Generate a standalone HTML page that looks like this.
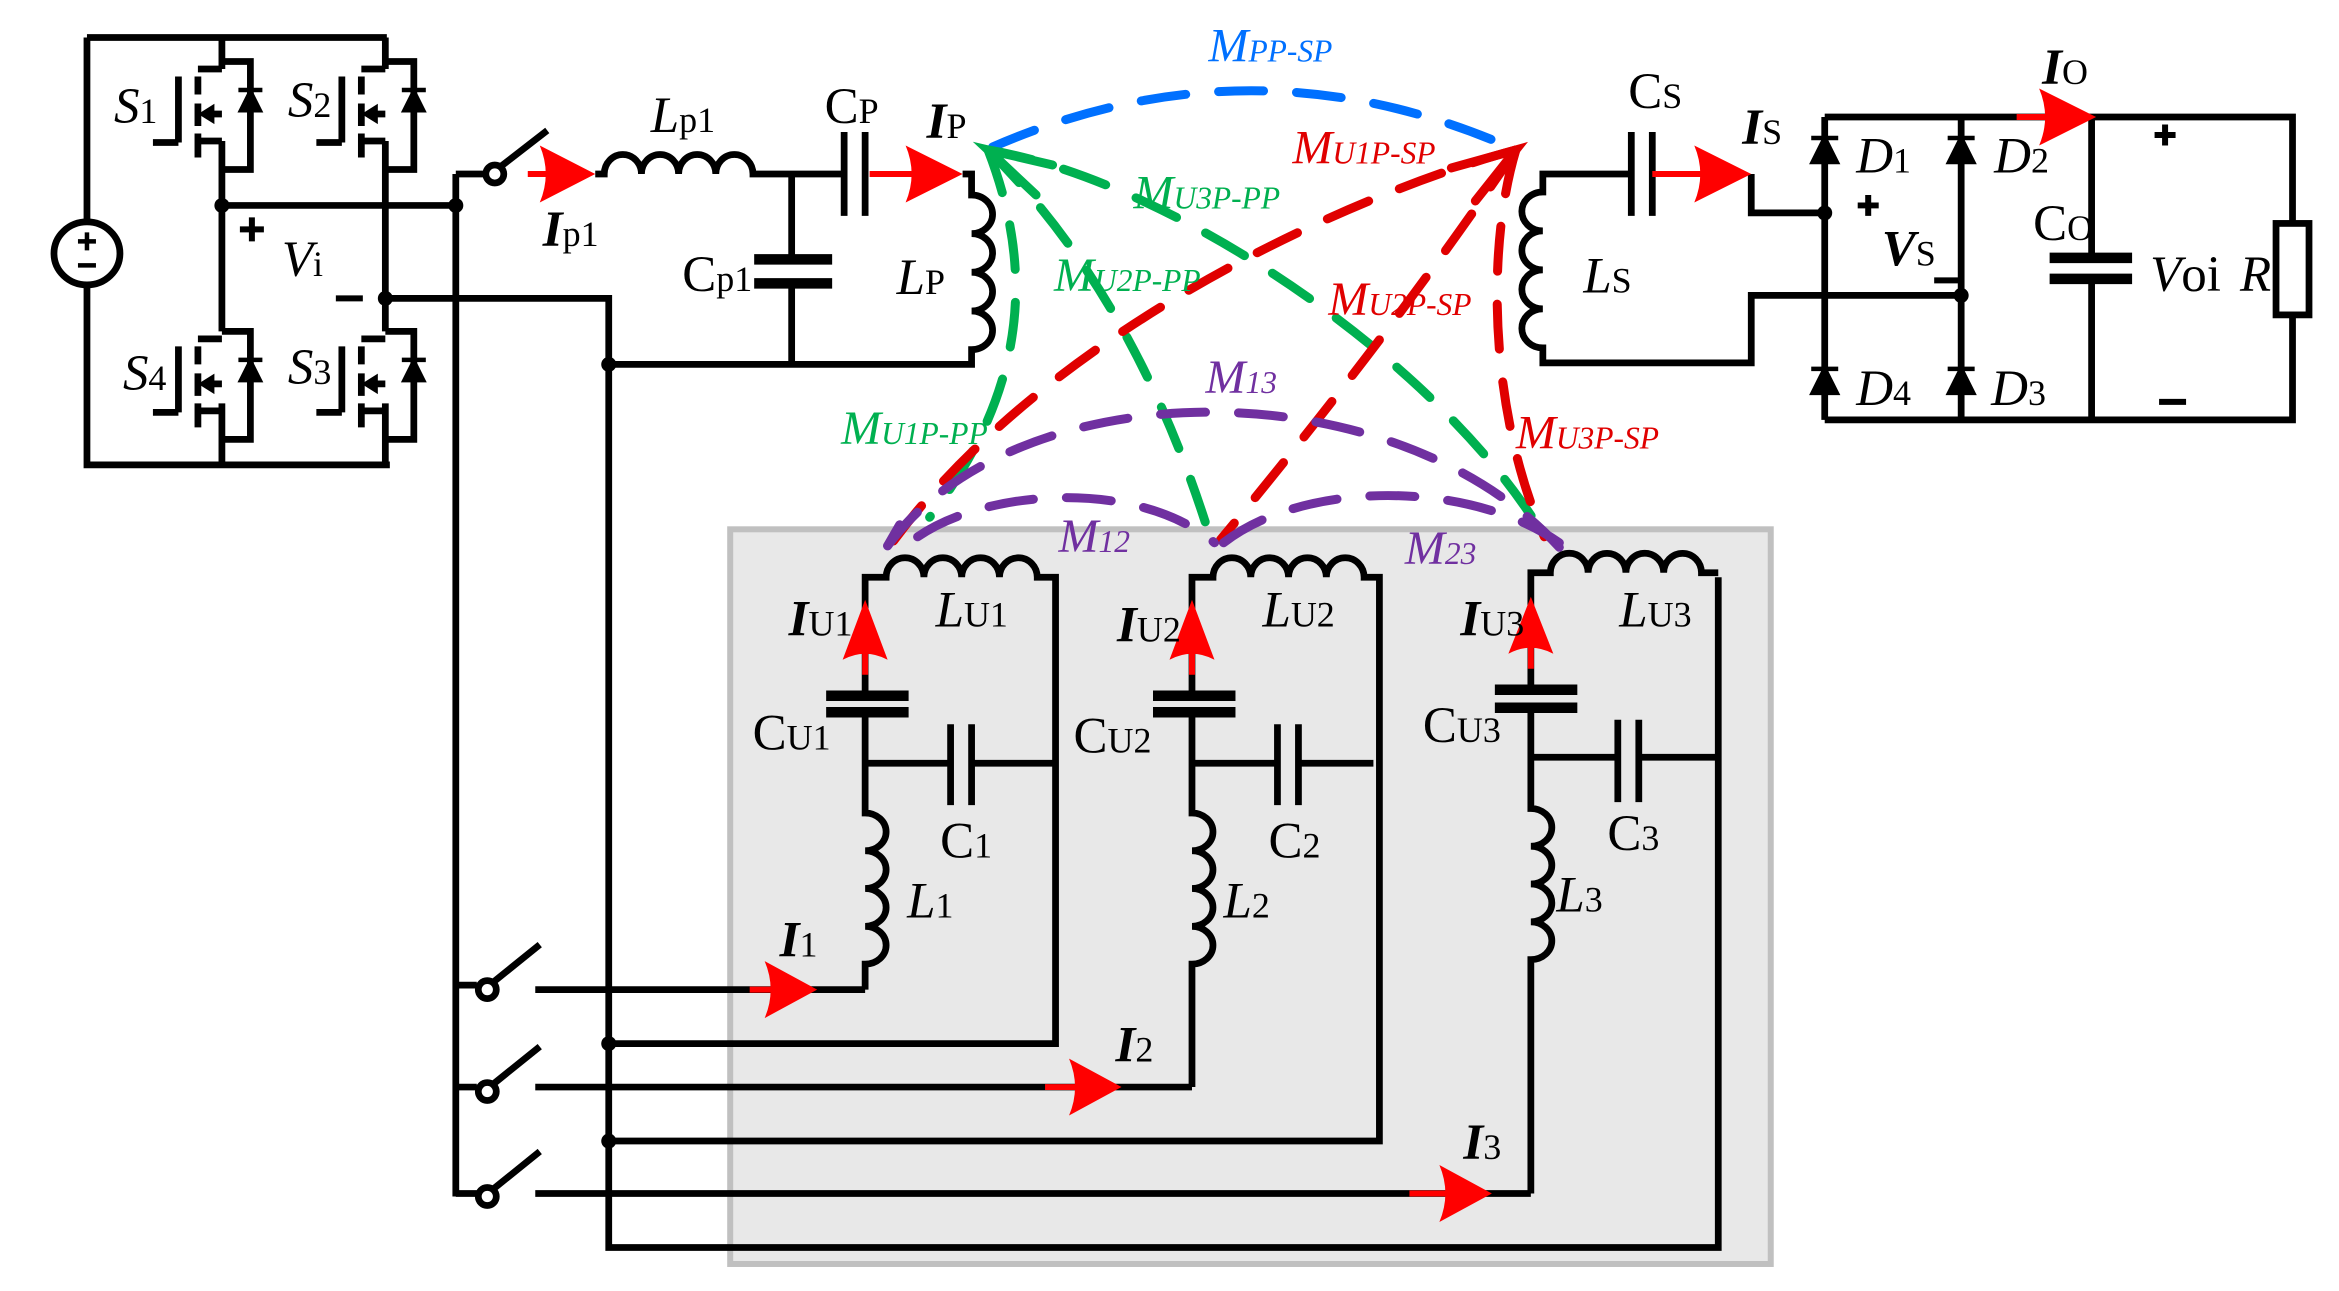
<!DOCTYPE html>
<html><head><meta charset="utf-8"><style>
html,body{margin:0;padding:0;background:#fff;}
svg{display:block;}
text{font-family:"Liberation Serif",serif;}
</style></head><body>
<svg width="2339" height="1291" viewBox="0 0 1560 861" xmlns="http://www.w3.org/2000/svg">
<defs>
<g id="mos" fill="none" stroke="#000" stroke-width="4.5">
  <path d="M148 41 H167 V113 H148"/>
  <path d="M132 46 H148"/>
  <path d="M132 94 H148"/>
  <path d="M119 51 V95 M102 95 H119"/>
  <path d="M132 51 V63 M132 69 V84 M132 89 V105"/>
  <path d="M136 76 H148"/>
  <path d="M134 76 l8 -5 v10 z" fill="#000" stroke-width="2"/>
  <path d="M167 60 l-7 14 h14 z" fill="#000" stroke-width="2"/>
  <path d="M159 60 H175" stroke-width="3"/>
</g>
</defs>
<rect width="1560" height="861" fill="#fff"/>

<rect x="487" y="353" width="694" height="490" fill="#e8e8e8" stroke="#c0c0c0" stroke-width="4"/>

<g fill="none" stroke="#000" stroke-width="4.5" stroke-linejoin="miter">
  <path d="M58 25 H258 M58 25 V148 M58 190 V310 H260"/>
  <ellipse cx="58" cy="169" rx="22" ry="21"/>
  <path d="M148 25 V46 M148 94 V221 M148 269 V310"/>
  <path d="M257 25 V46 M257 94 V221 M257 269 V310"/>
  <use href="#mos"/>
  <use href="#mos" transform="translate(109,0)"/>
  <use href="#mos" transform="translate(0,180)"/>
  <use href="#mos" transform="translate(109,180)"/>
  <path d="M148 137 H304"/>
  <path d="M304 116 V798"/>
  <path d="M257 199 H406 V832 H1146 V385"/>
  <path d="M304 116 H324"/>
  <circle cx="330" cy="116" r="6"/>
  <path d="M334 111 L365 87"/>
  <path d="M397 116 H403 a12.4 13 0 0 1 24.8 0 a12.4 13 0 0 1 24.8 0 a12.4 13 0 0 1 24.8 0 a12.4 13 0 0 1 24.8 0 H562"/>
  <path d="M563 88 V144 M577 88 V144"/>
  <path d="M642 116 H648 V130 a14 12.9 0 0 1 0 25.8 a14 12.9 0 0 1 0 25.8 a14 12.9 0 0 1 0 25.8 a14 12.9 0 0 1 0 25.8 V243 H406"/>
  <path d="M528 116 V173 M528 189 V243"/>
  <path d="M503 173 H555 M503 189 H555" stroke-width="7"/>
  <path d="M1088 116 H1029 V128 a14 13 0 0 0 0 26 a14 13 0 0 0 0 26 a14 13 0 0 0 0 26 a14 13 0 0 0 0 26 V242 H1168 V197 H1308"/>
  <path d="M1088 88 V144 M1102 88 V144"/>
  <path d="M1168 116 V142 H1217"/>
  <path d="M1217 78 V280 M1308 78 V280 M1217 78 H1529 V149 M1529 210 V280 H1217"/>
  <rect x="1518" y="149" width="22" height="61"/>
  <path d="M1395 78 V172 M1395 186 V280"/>
  <path d="M1367 172 H1422 M1367 186 H1422" stroke-width="7"/>
  <path d="M577 660 V643 a14 12.6 0 0 0 0 -25.2 a14 12.6 0 0 0 0 -25.2 a14 12.6 0 0 0 0 -25.2 a14 12.6 0 0 0 0 -25.2 V475 M577 464 V385 H591 a12.6 13 0 0 1 25.2 0 a12.6 13 0 0 1 25.2 0 a12.6 13 0 0 1 25.2 0 a12.6 13 0 0 1 25.2 0 H704 V696 H406"/>
  <path d="M577 509 H634 M648 509 H704 M634 483 V537 M648 483 V537"/>
  <path d="M551 464 H606 M551 475 H606" stroke-width="7"/>
  <path d="M357 660 H577"/>
  <path d="M795 725 V643 a14 12.6 0 0 0 0 -25.2 a14 12.6 0 0 0 0 -25.2 a14 12.6 0 0 0 0 -25.2 a14 12.6 0 0 0 0 -25.2 V475 M795 464 V385 H809 a12.6 13 0 0 1 25.2 0 a12.6 13 0 0 1 25.2 0 a12.6 13 0 0 1 25.2 0 a12.6 13 0 0 1 25.2 0 H920 V761 H406"/>
  <path d="M795 509 H852 M866 509 H916 M852 483 V537 M866 483 V537"/>
  <path d="M769 464 H824 M769 475 H824" stroke-width="7"/>
  <path d="M357 725 H795"/>
  <path d="M1021 796 V640 a14 12.6 0 0 0 0 -25.2 a14 12.6 0 0 0 0 -25.2 a14 12.6 0 0 0 0 -25.2 a14 12.6 0 0 0 0 -25.2 V472 M1021 460 V382 H1034 a12.6 13 0 0 1 25.2 0 a12.6 13 0 0 1 25.2 0 a12.6 13 0 0 1 25.2 0 a12.6 13 0 0 1 25.2 0 H1146"/>
  <path d="M1021 505 H1079 M1093 505 H1146 M1079 480 V535 M1093 480 V535"/>
  <path d="M997 460 H1052 M997 472 H1052" stroke-width="7"/>
  <path d="M357 796 H1021"/>
  <path d="M304 657 H318 M304 725 H318 M304 796 H318"/>
  <circle cx="325" cy="660" r="6"/><circle cx="325" cy="728" r="6"/><circle cx="325" cy="798" r="6"/>
  <path d="M329 655 L360 630 M329 723 L360 698 M329 793 L360 768"/>
</g>
<g fill="#000" stroke="#000" stroke-width="3">
  <path d="M1217 92 l-8 16 h16 z M1208 92 H1226"/>
  <path d="M1308 92 l-8 16 h16 z M1299 92 H1317"/>
  <path d="M1217 246 l-8 16 h16 z M1208 246 H1226"/>
  <path d="M1308 246 l-8 16 h16 z M1299 246 H1317"/>
</g>
<g fill="#000">
  <circle cx="148" cy="137" r="5"/><circle cx="257" cy="199" r="5"/><circle cx="304" cy="137" r="5"/>
  <circle cx="406" cy="243" r="5"/><circle cx="1217" cy="142" r="5"/><circle cx="1308" cy="197" r="5"/>
  <circle cx="406" cy="696" r="5"/><circle cx="406" cy="761" r="5"/>
</g>
<g stroke="#000" stroke-width="4">
  <path d="M160 153 H176 M168 145 V161"/><path d="M224 199 H242"/>
  <path d="M1239 137 H1253 M1246 130 V144"/><path d="M1290 187 H1306"/>
  <path d="M1437 90 H1451 M1444 83 V97"/><path d="M1440 268 H1458"/>
  <path d="M52 161 H64 M58 155 V167 M52 177 H64" stroke-width="3"/>
</g>
<g fill="#ff0000" stroke="#ff0000" stroke-width="4">
  <path d="M352 116 H380" fill="none"/><path d="M397 116 L360 97 Q368 116 360 135 Z" stroke="none"/>
  <path d="M580 116 H625" fill="none"/><path d="M642 116 L604 97 Q612 116 604 135 Z" stroke="none"/>
  <path d="M1102 116 H1150" fill="none"/><path d="M1168 116 L1130 97 Q1138 116 1130 135 Z" stroke="none"/>
  <path d="M1345 78 H1380" fill="none"/><path d="M1398 78 L1360 59 Q1368 78 1360 97 Z" stroke="none"/>
  <path d="M500 660 H525" fill="none"/><path d="M545 660 L510 641 Q518 660 510 679 Z" stroke="none"/>
  <path d="M697 725 H730" fill="none"/><path d="M748 725 L713 706 Q721 725 713 744 Z" stroke="none"/>
  <path d="M940 796 H975" fill="none"/><path d="M995 796 L960 777 Q968 796 960 815 Z" stroke="none"/>
  <path d="M577 450 V420" fill="none"/><path d="M577 400 L562 440 Q577 432 592 440 Z" stroke="none"/>
  <path d="M795 450 V420" fill="none"/><path d="M795 400 L780 440 Q795 432 810 440 Z" stroke="none"/>
  <path d="M1021 446 V418" fill="none"/><path d="M1021 398 L1006 436 Q1021 428 1036 436 Z" stroke="none"/>
</g>
<g fill="none" stroke-width="6" stroke-linecap="round" stroke-dasharray="30 22">
  <path d="M662 98 Q837 22 1011 100" stroke="#0070ff"/>
  <path d="M659 100 C690 180 685 260 620 345" stroke="#00b050"/>
  <path d="M659 100 Q760 200 810 368" stroke="#00b050"/>
  <path d="M659 100 C780 120 960 240 1030 358" stroke="#00b050"/>
  <path d="M1011 100 C900 130 700 220 595 362" stroke="#e00000"/>
  <path d="M1011 100 Q930 220 814 360" stroke="#e00000"/>
  <path d="M1011 100 C990 170 995 280 1030 358" stroke="#e00000"/>
  <path d="M592 364 C680 245 930 245 1040 365" stroke="#7030a0"/>
  <path d="M612 358 C660 325 760 320 810 362" stroke="#7030a0"/>
  <path d="M816 362 C870 320 980 320 1040 362" stroke="#7030a0"/>
</g>
<g fill="none" stroke-width="6" stroke-linecap="round">
  <path d="M702 110 L659 100 L691 130" stroke="#00b050"/>
  <path d="M968 112 L1011 100 L984 134" stroke="#e00000"/>
  <path d="M592 364 L600 350" stroke="#7030a0"/>
</g>

<g font-size="34" fill="#000">
  <text x="76" y="82"><tspan font-style="italic">S</tspan><tspan font-size="24">1</tspan></text>
  <text x="192" y="78"><tspan font-style="italic">S</tspan><tspan font-size="24">2</tspan></text>
  <text x="82" y="260"><tspan font-style="italic">S</tspan><tspan font-size="24">4</tspan></text>
  <text x="192" y="256"><tspan font-style="italic">S</tspan><tspan font-size="24">3</tspan></text>
  <text x="188" y="184"><tspan font-style="italic">V</tspan><tspan font-size="24">i</tspan></text>
  <text x="434" y="88"><tspan font-style="italic">L</tspan><tspan font-size="24">p1</tspan></text>
  <text x="362" y="164"><tspan font-style="italic" font-weight="bold">I</tspan><tspan font-size="24">p1</tspan></text>
  <text x="550" y="82">C<tspan font-size="24">P</tspan></text>
  <text x="618" y="92"><tspan font-style="italic" font-weight="bold">I</tspan><tspan font-size="24">P</tspan></text>
  <text x="455" y="194">C<tspan font-size="24">p1</tspan></text>
  <text x="598" y="196"><tspan font-style="italic">L</tspan><tspan font-size="24">P</tspan></text>
  <text x="1086" y="72">C<tspan font-size="24">S</tspan></text>
  <text x="1162" y="96"><tspan font-style="italic" font-weight="bold">I</tspan><tspan font-size="24">S</tspan></text>
  <text x="1056" y="195"><tspan font-style="italic">L</tspan><tspan font-size="24">S</tspan></text>
  <text x="1362" y="56"><tspan font-style="italic" font-weight="bold">I</tspan><tspan font-size="24">O</tspan></text>
  <text x="1238" y="115"><tspan font-style="italic">D</tspan><tspan font-size="24">1</tspan></text>
  <text x="1330" y="115"><tspan font-style="italic">D</tspan><tspan font-size="24">2</tspan></text>
  <text x="1238" y="270"><tspan font-style="italic">D</tspan><tspan font-size="24">4</tspan></text>
  <text x="1328" y="270"><tspan font-style="italic">D</tspan><tspan font-size="24">3</tspan></text>
  <text x="1255" y="177"><tspan font-style="italic" font-weight="bold">V</tspan><tspan font-size="24">S</tspan></text>
  <text x="1356" y="160">C<tspan font-size="24">O</tspan></text>
  <text x="1434" y="194"><tspan font-style="italic">V</tspan>oi</text>
  <text x="1494" y="194" font-style="italic">R</text>
  <text x="526" y="424"><tspan font-style="italic" font-weight="bold">I</tspan><tspan font-size="24">U1</tspan></text>
  <text x="745" y="428"><tspan font-style="italic" font-weight="bold">I</tspan><tspan font-size="24">U2</tspan></text>
  <text x="974" y="424"><tspan font-style="italic" font-weight="bold">I</tspan><tspan font-size="24">U3</tspan></text>
  <text x="624" y="418"><tspan font-style="italic">L</tspan><tspan font-size="24">U1</tspan></text>
  <text x="842" y="418"><tspan font-style="italic">L</tspan><tspan font-size="24">U2</tspan></text>
  <text x="1080" y="418"><tspan font-style="italic">L</tspan><tspan font-size="24">U3</tspan></text>
  <text x="502" y="500">C<tspan font-size="24">U1</tspan></text>
  <text x="716" y="502">C<tspan font-size="24">U2</tspan></text>
  <text x="949" y="495">C<tspan font-size="24">U3</tspan></text>
  <text x="627" y="572">C<tspan font-size="24">1</tspan></text>
  <text x="846" y="572">C<tspan font-size="24">2</tspan></text>
  <text x="1072" y="567">C<tspan font-size="24">3</tspan></text>
  <text x="605" y="612"><tspan font-style="italic">L</tspan><tspan font-size="24">1</tspan></text>
  <text x="816" y="612"><tspan font-style="italic">L</tspan><tspan font-size="24">2</tspan></text>
  <text x="1038" y="608"><tspan font-style="italic">L</tspan><tspan font-size="24">3</tspan></text>
  <text x="520" y="638"><tspan font-style="italic" font-weight="bold">I</tspan><tspan font-size="24">1</tspan></text>
  <text x="744" y="708"><tspan font-style="italic" font-weight="bold">I</tspan><tspan font-size="24">2</tspan></text>
  <text x="976" y="773"><tspan font-style="italic" font-weight="bold">I</tspan><tspan font-size="24">3</tspan></text>
</g>
<g font-size="32" font-style="italic">
  <text x="806" y="41" fill="#0070ff">M<tspan font-size="21">PP-SP</tspan></text>
  <text x="862" y="109" fill="#e00000">M<tspan font-size="21">U1P-SP</tspan></text>
  <text x="756" y="139" fill="#00b050">M<tspan font-size="21">U3P-PP</tspan></text>
  <text x="703" y="194" fill="#00b050">M<tspan font-size="21">U2P-PP</tspan></text>
  <text x="886" y="210" fill="#e00000">M<tspan font-size="21">U2P-SP</tspan></text>
  <text x="804" y="262" fill="#7030a0">M<tspan font-size="21">13</tspan></text>
  <text x="561" y="296" fill="#00b050">M<tspan font-size="21">U1P-PP</tspan></text>
  <text x="1011" y="299" fill="#e00000">M<tspan font-size="21">U3P-SP</tspan></text>
  <text x="706" y="368" fill="#7030a0">M<tspan font-size="21">12</tspan></text>
  <text x="937" y="376" fill="#7030a0">M<tspan font-size="21">23</tspan></text>
</g>
</svg>
</body></html>
